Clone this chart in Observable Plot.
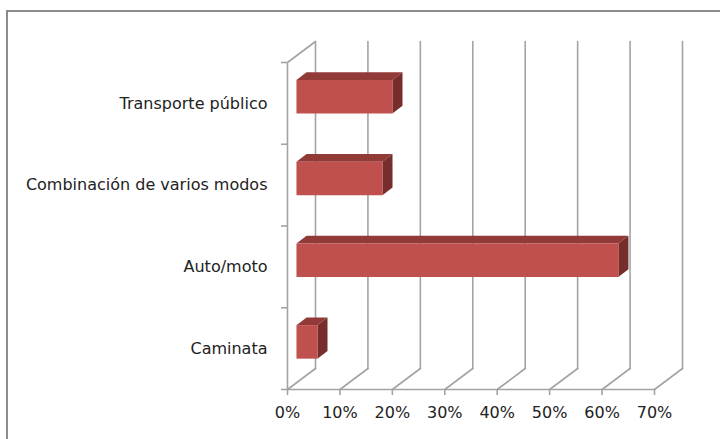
<!DOCTYPE html>
<html>
<head>
<meta charset="utf-8">
<script src="https://cdn.jsdelivr.net/npm/d3@7"></script>
<script src="https://cdn.jsdelivr.net/npm/@observablehq/plot@0.6"></script>
<style>
  html, body { margin: 0; padding: 0; background: #fff; overflow: hidden; }
  #wrap { position: relative; width: 720px; height: 439px; }
  #border { position: absolute; left: 6px; top: 10px; width: 800px; height: 600px;
            border-left: 2px solid #8c8c8c; border-top: 2px solid #8c8c8c; pointer-events: none; }
  #chart { position: absolute; left: 0; top: 0; }
</style>
</head>
<body>
<div id="wrap"><div id="chart"></div><div id="border"></div></div>
<script>
// Modes of travel, listed bottom to top
const categories = ["Caminata", "Auto/moto", "Combinación de varios modos", "Transporte público"];
const shares = [4.0, 61.4, 16.4, 18.3];
const xTicks = [0, 10, 20, 30, 40, 50, 60, 70];

// Pixel geometry of the plotting box
const W = 720, H = 439;
const mLeft = 287, mRight = 66, mTop = 62, mBottom = 50;
const xMax = 70, yMax = categories.length;
// Oblique depth offset (pixels) converted into data units
const depthPx = [28, -21];
const DXu = depthPx[0] * xMax / (W - mLeft - mRight);
const DYu = -depthPx[1] * yMax / (H - mTop - mBottom);
const proj = (v, y, d) => ({x: v + d * DXu, y: y + d * DYu});

// Bars sit in the middle slice of the depth and band
const d0 = 0.32, d1 = 0.68, b0 = 0.295, b1 = 0.705;
const faces = [];
shares.forEach((v, i) => {
  const y0 = i + b0, y1 = i + b1;
  const poly = (name, pts) => {
    pts.concat([pts[0]]).forEach(p => faces.push({...proj(...p), face: `${i}-${name}`, kind: name}));
  };
  poly("top", [[0, y1, d0], [v, y1, d0], [v, y1, d1], [0, y1, d1]]);
  poly("side", [[v, y0, d0], [v, y1, d0], [v, y1, d1], [v, y0, d1]]);
  poly("front", [[0, y0, d0], [v, y0, d0], [v, y1, d0], [0, y1, d0]]);
});
const faceColor = {front: "#c0504d", top: "#923a37", side: "#772d2b"};

// Walls and floor grid
const grid = [];
xTicks.forEach(k => {
  grid.push({...proj(k, 0, 1), g: `back${k}`}, {...proj(k, yMax, 1), g: `back${k}`});
  grid.push({...proj(k, 0, 0), g: `floor${k}`}, {...proj(k, 0, 1), g: `floor${k}`});
});
grid.push({...proj(0, 0, 0), g: "front"}, {...proj(xMax, 0, 0), g: "front"});
grid.push({...proj(0, 0, 0), g: "left"}, {...proj(0, yMax, 0), g: "left"}, {...proj(0, yMax, 1), g: "left"});

const gridColor = "#a3a3a3";
const chart = Plot.plot({
  width: W, height: H,
  marginLeft: mLeft, marginRight: mRight, marginTop: mTop, marginBottom: mBottom,
  style: {fontFamily: "DejaVu Sans, sans-serif", fontSize: "16px", color: "#222", background: "transparent"},
  x: {domain: [0, xMax], label: null},
  y: {domain: [0, yMax], label: null},
  marks: [
    Plot.line(grid, {x: "x", y: "y", z: "g", stroke: gridColor, strokeWidth: 1.6}),
    Plot.axisX({ticks: xTicks, tickFormat: d => d + "%", tickSize: 6, tickPadding: 11, stroke: gridColor, strokeWidth: 1.6, fontSize: 16, label: null}),
    Plot.axisY({ticks: d3.range(yMax + 1), tickFormat: () => "", tickSize: 6, stroke: gridColor, strokeWidth: 1.6, label: null}),
    Plot.axisY({ticks: categories.map((c, i) => i + 0.5), tickFormat: t => categories[Math.floor(t)], tickSize: 0, tickPadding: 20, fontSize: 16, label: null}),
    Plot.line(faces, {x: "x", y: "y", z: "face", fill: d => faceColor[d.kind], stroke: null})
  ]
});
document.getElementById("chart").appendChild(chart);
</script>
</body>
</html>
